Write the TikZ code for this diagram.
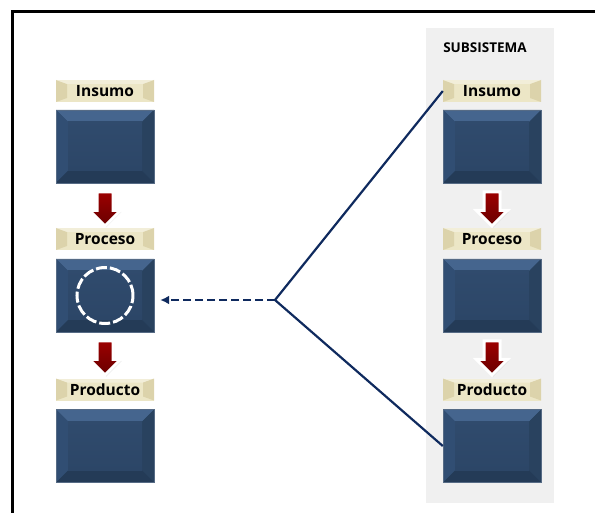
\documentclass[tikz,border=0pt]{standalone}
\usepackage{fontspec}
\setmainfont{Open Sans}
\usetikzlibrary{shapes.arrows,shadows,arrows.meta}

\definecolor{boxblue}{HTML}{2C4667}
\definecolor{boxtop}{HTML}{45658E}
\definecolor{boxleft}{HTML}{314E73}
\definecolor{boxright}{HTML}{29425F}
\definecolor{boxbottom}{HTML}{243B57}
\definecolor{tagfill}{HTML}{ECE6C6}
\definecolor{tagedge}{HTML}{DCD3AB}
\definecolor{arrowred}{HTML}{8B0000}
\definecolor{linkblue}{HTML}{0F2A5E}
\definecolor{panelgray}{HTML}{F0F0F0}

\tikzset{
  bluebox/.style={minimum width=98pt, minimum height=73pt, inner sep=0pt,
    fill=boxblue, draw=boxblue!80!white, line width=0.4pt,
    path picture={
      \fill[boxtop] (path picture bounding box.north west) -- (path picture bounding box.north east)
        -- ([xshift=-12pt,yshift=-12pt]path picture bounding box.north east)
        -- ([xshift=12pt,yshift=-12pt]path picture bounding box.north west) -- cycle;
      \fill[boxleft] (path picture bounding box.north west) -- ([xshift=12pt,yshift=-12pt]path picture bounding box.north west)
        -- ([xshift=12pt,yshift=12pt]path picture bounding box.south west) -- (path picture bounding box.south west) -- cycle;
      \fill[boxright] (path picture bounding box.north east) -- ([xshift=-12pt,yshift=-12pt]path picture bounding box.north east)
        -- ([xshift=-12pt,yshift=12pt]path picture bounding box.south east) -- (path picture bounding box.south east) -- cycle;
      \fill[boxbottom] (path picture bounding box.south west) -- ([xshift=12pt,yshift=12pt]path picture bounding box.south west)
        -- ([xshift=-12pt,yshift=12pt]path picture bounding box.south east) -- (path picture bounding box.south east) -- cycle;
      \shade[top color=boxblue!85!boxtop, bottom color=boxblue]
        ([xshift=12pt,yshift=-12pt]path picture bounding box.north west) rectangle
        ([xshift=-12pt,yshift=12pt]path picture bounding box.south east);
    }},
  tagbox/.style={minimum width=98pt, minimum height=22pt, inner sep=0pt,
    fill=tagfill, font=\bfseries\fontsize{15.5}{17}\selectfont,
    path picture={
      \fill[tagedge] (path picture bounding box.north west) -- ([xshift=11pt,yshift=-4pt]path picture bounding box.north west)
        -- ([xshift=11pt,yshift=4pt]path picture bounding box.south west) -- (path picture bounding box.south west) -- cycle;
      \fill[tagedge] (path picture bounding box.north east) -- ([xshift=-11pt,yshift=-4pt]path picture bounding box.north east)
        -- ([xshift=-11pt,yshift=4pt]path picture bounding box.south east) -- (path picture bounding box.south east) -- cycle;
      \fill[white,opacity=0.35] (path picture bounding box.north west) -- (path picture bounding box.north east)
        -- ([xshift=-11pt,yshift=-4pt]path picture bounding box.north east)
        -- ([xshift=11pt,yshift=-4pt]path picture bounding box.north west) -- cycle;
    }},
  downarrow/.style={single arrow, shape border rotate=270, minimum height=34pt,
    minimum width=29pt, single arrow head extend=7.5pt, inner sep=6.5pt,
    single arrow head indent=0pt,
    top color=arrowred!85!red, bottom color=arrowred!75!black,
    draw=white, line width=3pt, drop shadow={opacity=0.3, shadow xshift=1pt, shadow yshift=-1.5pt}},
  link/.style={draw=linkblue, line width=2.2pt},
}

\begin{document}
\begin{tikzpicture}[x=1pt,y=-1pt]
  \useasboundingbox (0,0) rectangle (595,513);

  % outer frame (top and left edges)
  \draw[line width=3pt, line cap=rect] (12,513) -- (12,12) -- (595,12);

  % subsystem panel
  \fill[panelgray] (426,28) rectangle (554,503);
  \node[font=\bfseries\fontsize{13.5}{16}\selectfont] (subtitle) at (485,48) {SUBSISTEMA};

  % left column
  \node[tagbox]  (lin)   at (105,91)    {Insumo};
  \node[bluebox] (linb)  at (105,146.5) {};
  \node[downarrow] (la1) at (105,205)   {};
  \node[tagbox]  (lpr)   at (105,239)   {Proceso};
  \node[bluebox] (lprb)  at (105,295.5) {};
  \node[downarrow] (la2) at (105,354)   {};
  \node[tagbox]  (lpo)   at (105,389.5) {Producto};
  \node[bluebox] (lpob)  at (105,446)   {};

  % cycle mark inside the process box
  \node[circle, draw=white, line width=3pt, dash pattern=on 11pt off 3pt,
        minimum size=56pt, inner sep=0pt] (cycle) at (lprb) {};

  % right column
  \node[tagbox]  (rin)   at (492,91)    {Insumo};
  \node[bluebox] (rinb)  at (492,146.5) {};
  \node[downarrow] (ra1) at (492,205)   {};
  \node[tagbox]  (rpr)   at (492,239)   {Proceso};
  \node[bluebox] (rprb)  at (492,295.5) {};
  \node[downarrow] (ra2) at (492,354)   {};
  \node[tagbox]  (rpo)   at (492,389.5) {Producto};
  \node[bluebox] (rpob)  at (492,446)   {};

  % zoom-in connectors
  \coordinate (split) at (275,300);
  \draw[link] (rin.west) -- (split) -- (rpob.west);
  \draw[link, dash pattern=on 8pt off 4pt, -{Latex[length=9pt,width=9pt]}]
    (split) -- ([xshift=6pt]lprb.east |- split);
\end{tikzpicture}
\end{document}
